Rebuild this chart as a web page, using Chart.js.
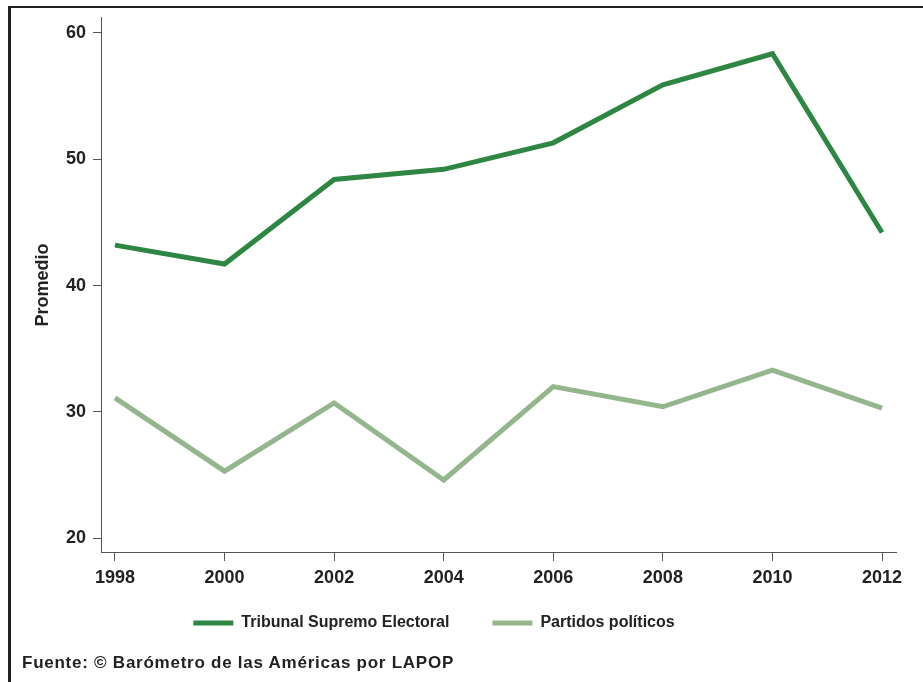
<!DOCTYPE html>
<html lang="es">
<head>
<meta charset="utf-8">
<title>Promedio de confianza</title>
<script src="https://cdn.jsdelivr.net/npm/chart.js@4/dist/chart.umd.min.js"></script>
<style>
  html, body {
    margin: 0;
    padding: 0;
    background: #fff;
    overflow: hidden;
  }
  #wrap {
    position: relative;
    width: 923px;
    height: 682px;
  }
  #frame {
    position: absolute;
    left: 8px;
    top: 6px;
    width: 960px;
    height: 720px;
    border-left: 3px solid #222;
    border-top: 2.5px solid #222;
  }
  #chart {
    position: absolute;
    left: 0;
    top: 0;
  }
  #source {
    position: absolute;
    left: 22px;
    top: 654px;
    font: bold 17px "Liberation Sans", Arial, sans-serif;
    line-height: 17px;
    letter-spacing: 0.75px;
    color: #222;
    white-space: nowrap;
  }
</style>
</head>
<body>
<div id="wrap">
  <div id="frame"></div>
  <canvas id="chart" width="923" height="682"></canvas>
  <div id="source">Fuente: © Barómetro de las Américas por LAPOP</div>
</div>

<script>
// Data
const years = [1998, 2000, 2002, 2004, 2006, 2008, 2010, 2012];
const tribunalValues = [43.2, 41.7, 48.4, 49.2, 51.3, 55.9, 58.35, 44.2];
const partidosValues = [31.1, 25.3, 30.7, 24.6, 32.0, 30.4, 33.3, 30.3];
const yTicks = [20, 30, 40, 50, 60];
const seriesNames = ['Tribunal Supremo Electoral', 'Partidos políticos'];

const FONT = '"Liberation Sans", Arial, Helvetica, sans-serif';
const TEXT_COLOR = '#222';
const AXIS_COLOR = '#555';

// Move the legend to where the original figure has it
const legendShift = {
  id: 'legendShift',
  afterLayout(chart) {
    const legend = chart.legend;
    if (!legend) return;
    legend.left -= 14;
    legend.right -= 14;
    legend.top -= 20;
    legend.bottom -= 20;
  }
};

function toPoints(values) {
  return values.map((v, i) => ({ x: years[i], y: v }));
}

function renderChart() {
  const ctx = document.getElementById('chart');

  new Chart(ctx, {
    type: 'line',
    data: {
      datasets: [
        {
          label: seriesNames[0],
          data: toPoints(tribunalValues),
          borderColor: '#2e8643',
          backgroundColor: '#2e8643',
          borderWidth: 5,
          borderJoinStyle: 'miter',
          pointRadius: 0,
          tension: 0,
          fill: false
        },
        {
          label: seriesNames[1],
          data: toPoints(partidosValues),
          borderColor: '#94b68c',
          backgroundColor: '#94b68c',
          borderWidth: 5,
          borderJoinStyle: 'miter',
          pointRadius: 0,
          tension: 0,
          fill: false
        }
      ]
    },
    options: {
      responsive: false,
      animation: false,
      layout: {
        padding: { left: 0, right: 27, top: 15, bottom: 21 }
      },
      plugins: {
        legend: {
          display: true,
          position: 'bottom',
          labels: {
            boxWidth: 40,
            boxHeight: 5,
            padding: 43,
            color: TEXT_COLOR,
            font: { family: FONT, size: 16, weight: 'bold' },
            generateLabels: chart => chart.data.datasets.map((ds, i) => ({
              text: ds.label,
              fillStyle: ds.borderColor,
              strokeStyle: ds.borderColor,
              lineWidth: 0,
              fontColor: TEXT_COLOR,
              hidden: false,
              datasetIndex: i
            }))
          }
        },
        tooltip: { enabled: false }
      },
      scales: {
        x: {
          type: 'linear',
          min: 1997.745,
          max: 2012.255,
          afterBuildTicks: scale => {
            scale.ticks = years.map(v => ({ value: v }));
          },
          afterFit: scale => {
            scale.height = 40;
          },
          grid: {
            display: true,
            drawOnChartArea: false,
            drawTicks: true,
            tickLength: 9,
            color: AXIS_COLOR
          },
          border: { display: true, color: AXIS_COLOR, width: 1 },
          ticks: {
            autoSkip: false,
            maxRotation: 0,
            padding: 6,
            color: TEXT_COLOR,
            font: { family: FONT, size: 18, weight: 'bold' },
            callback: value => String(value)
          }
        },
        y: {
          min: 18.9,
          max: 61.2,
          afterBuildTicks: scale => {
            scale.ticks = yTicks.map(v => ({ value: v }));
          },
          afterFit: scale => {
            scale.width = 101;
          },
          grid: {
            display: true,
            drawOnChartArea: false,
            drawTicks: true,
            tickLength: 8,
            color: AXIS_COLOR
          },
          border: { display: true, color: AXIS_COLOR, width: 1 },
          ticks: {
            padding: 7,
            color: TEXT_COLOR,
            font: { family: FONT, size: 18, weight: 'bold' }
          },
          title: {
            display: true,
            text: 'Promedio',
            color: TEXT_COLOR,
            font: { family: FONT, size: 18, weight: 'bold' },
            padding: { top: 32, bottom: 0 }
          }
        }
      }
    },
    plugins: [legendShift]
  });
}

document.addEventListener('DOMContentLoaded', renderChart);
</script>
</body>
</html>
